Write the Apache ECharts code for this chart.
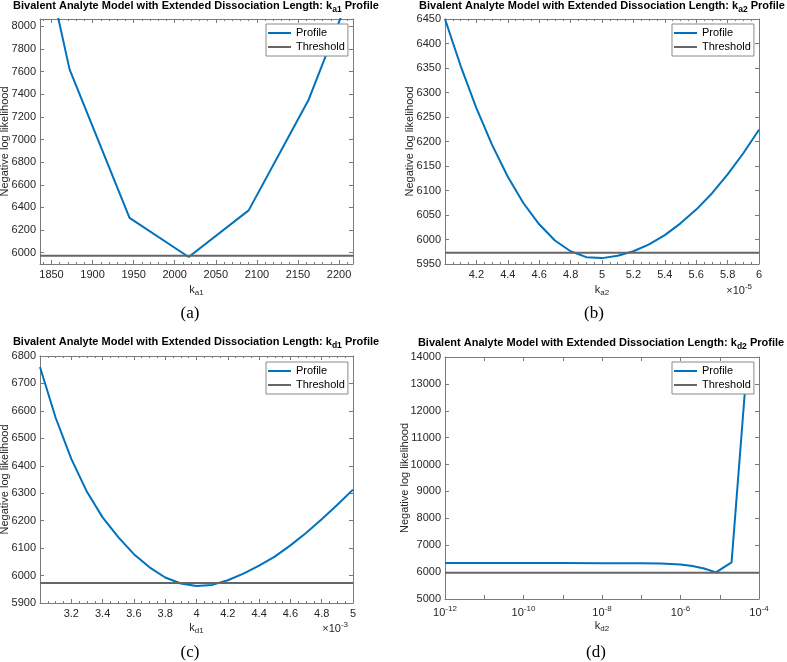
<!DOCTYPE html>
<html>
<head>
<meta charset="utf-8">
<script src="https://cdn.jsdelivr.net/npm/echarts@6/dist/echarts.min.js"></script>
<style>
  html, body { margin: 0; padding: 0; background: #fff; }
  #chart { width: 787px; height: 662px; }
</style>
</head>
<body>
<div id="chart"></div>
<script>
// ---------------- data ----------------
const threshold = 5973;

// (a) k_a1 profile
const ka1Values = [1799, 1872, 1945, 2017, 2090, 2163, 2236];
const ka1Nll    = [10020, 7620, 6307, 5962, 6374, 7352, 8707];
const ka1Range  = [1836, 2217];
const ka1NllRange = [5900, 8065];

// (b) k_a2 profile (x in units of 1e-5)
const ka2Values = [4.0, 4.1, 4.2, 4.3, 4.4, 4.5, 4.6, 4.7, 4.8, 4.9, 5.0, 5.1, 5.2, 5.3, 5.4, 5.5, 5.6, 5.7, 5.8, 5.9, 6.0];
const ka2Nll    = [6450, 6354, 6268, 6193, 6128, 6074, 6031, 5998, 5976, 5964, 5962, 5967, 5976, 5990, 6009, 6033, 6061, 6094, 6133, 6176, 6224];
const ka2Range  = [4, 6];
const ka2NllRange = [5950, 6450];

// (c) k_d1 profile (x in units of 1e-3)
const kd1Values = [3.0, 3.1, 3.2, 3.3, 3.4, 3.5, 3.6, 3.7, 3.8, 3.9, 4.0, 4.1, 4.2, 4.3, 4.4, 4.5, 4.6, 4.7, 4.8, 4.9, 5.0];
const kd1Nll    = [6760, 6575, 6425, 6305, 6212, 6140, 6078, 6030, 5993, 5971, 5962, 5966, 5983, 6007, 6036, 6069, 6110, 6155, 6205, 6258, 6313];
const kd1Range  = [3, 5];
const kd1NllRange = [5900, 6800];

// (d) k_d2 profile (log x)
const kd2Values = [1e-12, 1e-11, 1e-10, 1e-9, 1e-8, 1e-7, 3.16e-7, 1e-6, 2e-6, 4e-6, 8e-6, 2e-5, 5e-5];
const kd2Nll    = [6335, 6335, 6335, 6335, 6334, 6330, 6320, 6285, 6225, 6137, 5990, 6360, 13815];
const kd2Range  = [1e-12, 1e-4];
const kd2NllRange = [5000, 14000];

const panelTitles = ['a1', 'a2', 'd1', 'd2'];
const panelLetters = ['(a)', '(b)', '(c)', '(d)'];

// ---------------- style ----------------
const lineColor = '#7a7a7a';
const textColor = '#262626';
const blue = '#0072BD';
const gray = '#666666';
const sans = 'Liberation Sans, Arial, Helvetica, sans-serif';

const grids = [
  { left: 40, top: 19, width: 313, height: 245, outerBoundsMode: 'none', containLabel: false },
  { left: 445, top: 19, width: 314, height: 245, outerBoundsMode: 'none', containLabel: false },
  { left: 40, top: 356, width: 313, height: 247, outerBoundsMode: 'none', containLabel: false },
  { left: 445, top: 357, width: 314, height: 242, outerBoundsMode: 'none', containLabel: false }
];

function plainNumber(v) {
  return String(Math.round(v * 1000) / 1000);
}

function baseAxis(gridIndex, position, main) {
  return {
    gridIndex: gridIndex,
    position: position,
    nameMoveOverlap: false,
    axisLine: { show: true, onZero: false, lineStyle: { color: lineColor, width: 1 } },
    axisTick: { show: true, inside: true, length: 4, lineStyle: { color: lineColor, width: 1 } },
    splitLine: { show: false },
    axisLabel: { show: main, color: textColor, fontSize: 11, fontFamily: sans, formatter: plainNumber },
    nameTextStyle: { color: textColor, fontSize: 11, fontFamily: sans }
  };
}

const subRich = { sub: { fontSize: 8, fontFamily: sans, color: textColor, padding: [7, 0, 0, 0] } };
const supRich = { sup: { fontSize: 8, fontFamily: sans, color: textColor, padding: [0, 0, 8, 0] } };

function linearX(gridIndex, position, range, opts) {
  const main = position === 'bottom';
  const a = baseAxis(gridIndex, position, main);
  a.type = 'value';
  a.min = range[0];
  a.max = range[1];
  if (opts.interval != null) a.interval = opts.interval;
  if (opts.splitNumber != null) a.splitNumber = opts.splitNumber;
  a.minorTick = { show: true, splitNumber: opts.minor, length: 2, lineStyle: { color: lineColor } };
  a.axisLabel.margin = 5;
  a.axisLabel.showMinLabel = false;
  a.axisLabel.showMaxLabel = opts.showMax;
  if (main) {
    a.name = 'k{sub|' + opts.sub + '}';
    a.nameLocation = 'middle';
    a.nameGap = opts.nameGap;
    a.nameTextStyle.rich = subRich;
  }
  return a;
}

function linearY(gridIndex, position, range, opts) {
  const main = position === 'left';
  const a = baseAxis(gridIndex, position, main);
  a.type = 'value';
  a.min = range[0];
  a.max = range[1];
  if (opts.interval != null) a.interval = opts.interval;
  if (opts.splitNumber != null) a.splitNumber = opts.splitNumber;
  a.axisLabel.margin = 4;
  a.axisLabel.showMinLabel = opts.showMin;
  a.axisLabel.showMaxLabel = opts.showMax;
  if (main) {
    a.name = 'Negative log likelihood';
    a.nameLocation = 'middle';
    a.nameGap = opts.nameGap;
  }
  return a;
}

function logX(gridIndex, position, range) {
  const main = position === 'bottom';
  const a = baseAxis(gridIndex, position, main);
  a.type = 'log';
  a.logBase = 10;
  a.min = range[0];
  a.max = range[1];
  a.axisLabel.margin = 6;
  a.axisLabel.formatter = function (v) {
    const e = Math.round(Math.log10(v));
    if (e % 2 !== 0) return '';
    return '10{sup|' + e + '}';
  };
  a.axisLabel.rich = supRich;
  if (main) {
    a.name = 'k{sub|d2}';
    a.nameLocation = 'middle';
    a.nameGap = 19;
    a.nameTextStyle.rich = subRich;
  }
  return a;
}

const xAxes = [
  linearX(0, 'bottom', ka1Range, { splitNumber: 8, minor: 5, sub: 'a1', nameGap: 18, showMax: false }),
  linearX(0, 'top', ka1Range, { splitNumber: 8, minor: 5, sub: 'a1', showMax: false }),
  linearX(1, 'bottom', ka2Range, { interval: 0.2, minor: 4, sub: 'a2', nameGap: 18, showMax: true }),
  linearX(1, 'top', ka2Range, { interval: 0.2, minor: 4, sub: 'a2', showMax: true }),
  linearX(2, 'bottom', kd1Range, { interval: 0.2, minor: 4, sub: 'd1', nameGap: 17, showMax: true }),
  linearX(2, 'top', kd1Range, { interval: 0.2, minor: 4, sub: 'd1', showMax: true }),
  logX(3, 'bottom', kd2Range),
  logX(3, 'top', kd2Range)
];

const yAxes = [
  linearY(0, 'left', ka1NllRange, { splitNumber: 10, showMin: false, showMax: false, nameGap: 30 }),
  linearY(0, 'right', ka1NllRange, { splitNumber: 10, showMin: false, showMax: false }),
  linearY(1, 'left', ka2NllRange, { interval: 50, showMin: true, showMax: true, nameGap: 30 }),
  linearY(1, 'right', ka2NllRange, { interval: 50, showMin: true, showMax: true }),
  linearY(2, 'left', kd1NllRange, { interval: 100, showMin: true, showMax: true, nameGap: 30 }),
  linearY(2, 'right', kd1NllRange, { interval: 100, showMin: true, showMax: true }),
  linearY(3, 'left', kd2NllRange, { interval: 1000, showMin: true, showMax: true, nameGap: 35 }),
  linearY(3, 'right', kd2NllRange, { interval: 1000, showMin: true, showMax: true })
];

function pairs(xs, ys) { return xs.map((x, i) => [x, ys[i]]); }

const profiles = [
  pairs(ka1Values, ka1Nll),
  pairs(ka2Values, ka2Nll),
  pairs(kd1Values, kd1Nll),
  pairs(kd2Values, kd2Nll)
];
const ranges = [ka1Range, ka2Range, kd1Range, kd2Range];

const series = [];
profiles.forEach((data, i) => {
  series.push({
    name: 'Profile', type: 'line', xAxisIndex: 2 * i, yAxisIndex: 2 * i,
    data: data, symbol: 'none', clip: true, color: blue,
    lineStyle: { color: blue, width: 2 }, itemStyle: { color: blue }, z: 2
  });
  series.push({
    name: 'Threshold', type: 'line', xAxisIndex: 2 * i, yAxisIndex: 2 * i,
    data: [[ranges[i][0], threshold], [ranges[i][1], threshold]],
    symbol: 'none', clip: true, color: gray,
    lineStyle: { color: gray, width: 2 }, itemStyle: { color: gray }, z: 3
  });
});

const legendPos = [[266, 24], [672, 24], [266, 362], [672, 362]];
const legends = legendPos.map(p => ({
  data: ['Profile', 'Threshold'],
  orient: 'vertical', left: p[0], top: p[1],
  icon: 'rect', itemWidth: 23, itemHeight: 2, itemGap: 0,
  padding: [2, 3, 2, 2],
  backgroundColor: '#ffffff', borderColor: '#8a8a8a', borderWidth: 1, borderRadius: 0,
  selectedMode: false,
  textStyle: { fontSize: 11, color: '#000', fontFamily: sans, lineHeight: 14 },
  z: 10
}));

const titlePos = [[196, 6], [602, 6], [196, 342], [601, 343]];
const letterPos = [[190, 314], [594, 314], [190, 653], [596, 653]];

const graphics = [];
titlePos.forEach((p, i) => {
  graphics.push({
    type: 'text', x: p[0], y: p[1], z: 20,
    style: {
      text: 'Bivalent Analyte Model with Extended Dissociation Length: k{sub|' + panelTitles[i] + '} Profile',
      fontSize: 11, fontWeight: 'bold', fontFamily: sans, fill: '#000',
      align: 'center', verticalAlign: 'middle',
      rich: { sub: { fontSize: 8.5, fontWeight: 'bold', fontFamily: sans, fill: '#000', padding: [7, 0, 0, 0] } }
    }
  });
});
letterPos.forEach((p, i) => {
  graphics.push({
    type: 'text', x: p[0], y: p[1], z: 20,
    style: { text: panelLetters[i], fontSize: 17, fontFamily: 'Liberation Serif, Times New Roman, serif', fill: '#000', align: 'center', verticalAlign: 'middle' }
  });
});
const expLabels = [['×10{sup|-5}', 752, 291], ['×10{sup|-3}', 348, 629]];
expLabels.forEach(e => {
  graphics.push({
    type: 'text', x: e[1], y: e[2], z: 20,
    style: { text: e[0], fontSize: 11, fontFamily: sans, fill: textColor, align: 'right', verticalAlign: 'middle',
      rich: { sup: { fontSize: 8, fontFamily: sans, fill: textColor, padding: [0, 0, 8, 0] } } }
  });
});

const chart = echarts.init(document.getElementById('chart'), null, { renderer: 'canvas' });
chart.setOption({
  animation: false,
  backgroundColor: '#ffffff',
  grid: grids,
  xAxis: xAxes,
  yAxis: yAxes,
  legend: legends,
  series: series,
  graphic: graphics
});
</script>
</body>
</html>
